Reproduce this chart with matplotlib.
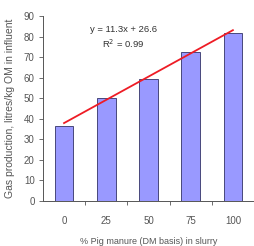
import matplotlib.pyplot as plt
import numpy as np
from matplotlib import font_manager

names = {f.name for f in font_manager.fontManager.ttflist}
narrow = 'Liberation Sans Narrow' if 'Liberation Sans Narrow' in names else 'Liberation Sans'
plt.rcParams['font.family'] = [narrow, 'DejaVu Sans']

categories = ['0', '25', '50', '75', '100']
gas = [36.7, 50.3, 59.2, 72.5, 81.5]
slope = 11.3
intercept = 26.6
r2 = 0.99

fig = plt.figure(figsize=(2.54, 2.46), dpi=100)
ax = fig.add_axes([0.169, 0.183, 0.831, 0.752])

x = np.arange(len(categories))
ax.bar(x, gas, width=0.44, color='#9999ff', edgecolor='#333366', linewidth=0.6, zorder=2)

# trendline from the equation shown (excel x runs 1..n)
trend = slope * (x + 1) + intercept
ax.plot(x, trend, color='#ee1c25', linewidth=1.3, zorder=3)

ax.text(1.4, 83.5, f'y = {slope}x + {intercept}', fontsize=6.8, color='#333333', ha='center', va='center')
ax.text(1.4, 76.5, f'R$^2$ = {r2}', fontsize=6.8, color='#333333', ha='center', va='center')

ax.set_xlim(-0.5, 4.5)
ax.set_ylim(0, 90)
ax.set_yticks(range(0, 91, 10))
ax.set_xticks(x)
ax.set_xticklabels(categories)
ax.set_xticks(x[:-1] + 0.5, minor=True)
ax.tick_params(axis='x', which='major', length=0, pad=11)
ax.tick_params(axis='x', which='minor', length=3, color='#555555', width=0.6)
ax.tick_params(axis='y', length=3, color='#555555', width=0.6, pad=3)
ax.tick_params(labelsize=7, labelcolor='#555555')

for s in ['top', 'right']:
    ax.spines[s].set_visible(False)
for s in ['left', 'bottom']:
    ax.spines[s].set_color('#555555')
    ax.spines[s].set_linewidth(0.7)

ax.set_xlabel('% Pig manure (DM basis) in slurry', fontsize=6.5, color='#555555', labelpad=8)
ax.set_ylabel('Gas production, litres/kg OM in influent', fontsize=7.5, color='#555555', labelpad=6)

fig.savefig('out.png', dpi=100)
